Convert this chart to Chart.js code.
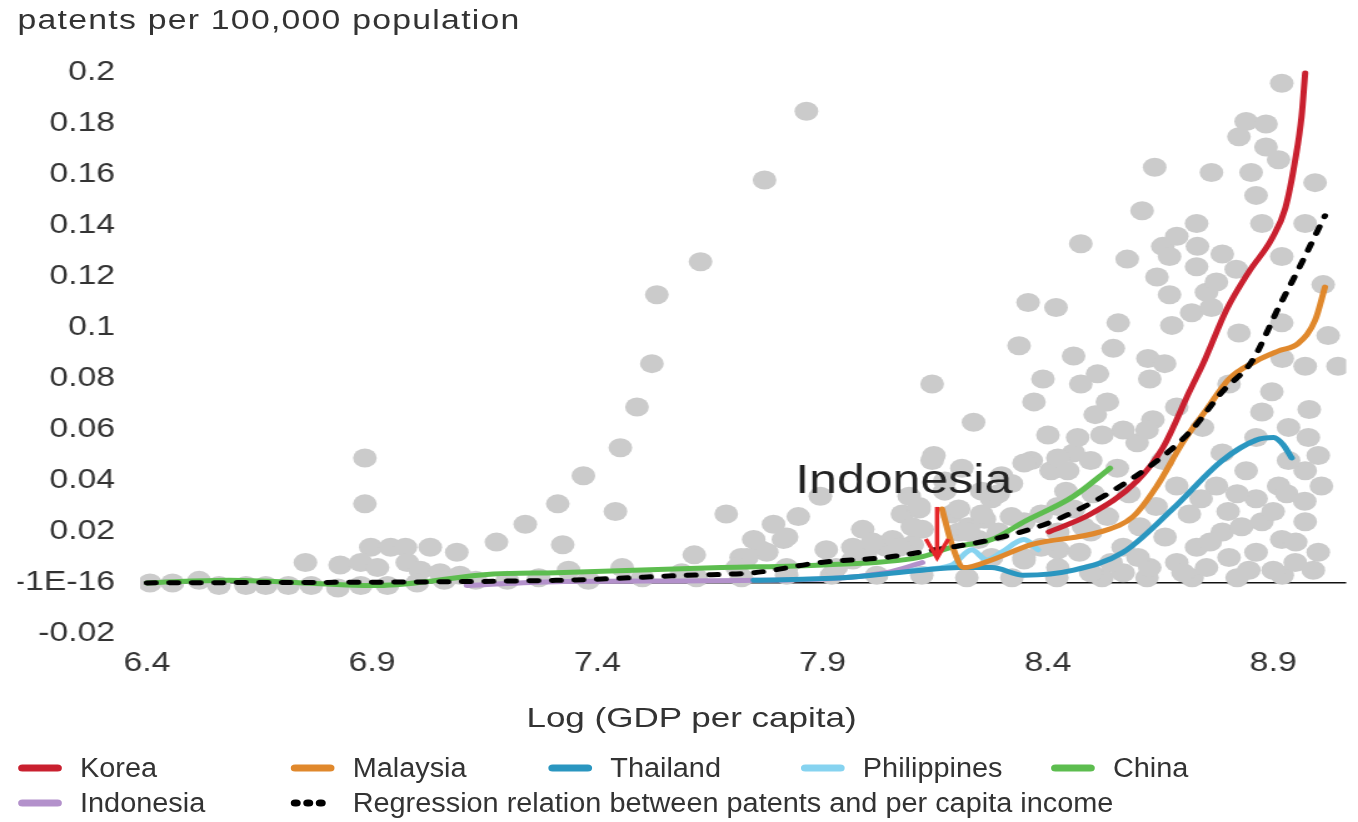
<!DOCTYPE html>
<html>
<head>
<meta charset="utf-8">
<script src="https://cdn.jsdelivr.net/npm/chart.js@4.4.0/dist/chart.umd.min.js"></script>
<style>
  html, body { margin: 0; padding: 0; background: #fff; overflow: hidden; }
  /* the source picture is stretched sideways, so the whole stage is too */
  #stage { position: absolute; left: 0; top: 0; width: 1086px; height: 822px; transform: scaleX(1.2505); transform-origin: 0 0; }
  #ytitle { position: absolute; left: 14px; top: 5px; line-height: 30px; font-size: 27px; letter-spacing: 1px; font-family: "Liberation Sans", Arial, sans-serif; color: #333; white-space: nowrap; }
  #xtitle { position: absolute; left: 403px; width: 300px; top: 701px; line-height: 34px; text-align: center; font-size: 28px; font-family: "Liberation Sans", Arial, sans-serif; color: #333; white-space: nowrap; }
  #chart { position: absolute; left: 0; top: 0; }
  .lg { position: absolute; display: flex; align-items: center; height: 32px; font-size: 27px; font-family: "Liberation Sans", Arial, sans-serif; color: #333; white-space: nowrap; }
  .lg svg { margin-right: 14px; flex: none; }
  .lg span { display: inline-block; transform: scaleX(0.855); transform-origin: 0 50%; }
</style>
</head>
<body>
<div id="stage">
  <div id="ytitle">patents per 100,000 population</div>
  <canvas id="chart" width="1086" height="745"></canvas>
  <div id="xtitle">Log (GDP per capita)</div>
  <div id="legend"></div>
</div>
<script>
// ticks
const xTicks = [6.4, 6.9, 7.4, 7.9, 8.4, 8.9];
const xTickLabels = ['6.4', '6.9', '7.4', '7.9', '8.4', '8.9'];
const yTicks = [-0.02, 0, 0.02, 0.04, 0.06, 0.08, 0.1, 0.12, 0.14, 0.16, 0.18, 0.2];
const yTickLabels = ['-0.02', '-1E-16', '0.02', '0.04', '0.06', '0.08', '0.1', '0.12', '0.14', '0.16', '0.18', '0.2'];

// country paths [log gdp per capita, patents per 100,000]
const korea = [[8.402,0.020],[8.495,0.027],[8.598,0.040],[8.655,0.053],[8.714,0.075],[8.747,0.087],[8.796,0.107],[8.846,0.122],[8.897,0.135],[8.927,0.147],[8.949,0.166],[8.963,0.183],[8.971,0.200]];
const malaysia = [[8.165,0.029],[8.187,0.015],[8.213,0.006],[8.275,0.009],[8.363,0.015],[8.516,0.020],[8.589,0.026],[8.642,0.038],[8.699,0.055],[8.752,0.068],[8.802,0.080],[8.862,0.087],[8.912,0.091],[8.956,0.094],[8.993,0.103],[9.015,0.116]];
const thailand = [[7.747,0.001],[7.945,0.002],[8.121,0.005],[8.202,0.006],[8.275,0.006],[8.347,0.003],[8.457,0.005],[8.567,0.012],[8.677,0.029],[8.787,0.048],[8.862,0.056],[8.901,0.057],[8.923,0.054],[8.941,0.049]];
const philippines = [[8.099,0.005],[8.187,0.007],[8.231,0.013],[8.264,0.009],[8.297,0.012],[8.347,0.017],[8.378,0.013]];
const china = [[6.400,0.000],[6.582,0.001],[6.912,-0.001],[7.169,0.0035],[7.308,0.004],[7.675,0.006],[7.901,0.007],[8.114,0.010],[8.187,0.014],[8.275,0.017],[8.347,0.024],[8.457,0.034],[8.538,0.045]];
const indonesia = [[7.110,-0.001],[7.308,0.0005],[7.747,0.001],[8.040,0.004],[8.121,0.008]];
const regression = [[6.400,0.000],[7.308,0.001],[7.600,0.003],[7.747,0.004],[7.895,0.008],[8.040,0.010],[8.149,0.013],[8.275,0.017],[8.422,0.025],[8.604,0.043],[8.714,0.059],[8.787,0.075],[8.853,0.087],[8.912,0.108],[8.956,0.123],[9.015,0.144]];

// all country-year observations (grey dots)
const observations = [
  [7.864,0.185],[7.771,0.158],[7.629,0.126],[7.532,0.113],[7.521,0.086],[7.488,0.069],[7.451,0.053],[7.369,0.042],
  [7.312,0.031],[7.440,0.028],[7.686,0.027],[7.323,0.015],[7.240,0.023],[7.176,0.016],[6.884,0.049],[6.884,0.031],
  [7.029,0.014],[7.088,0.012],[6.897,0.014],[6.941,0.014],[6.974,0.014],[6.752,0.008],[6.829,0.007],[6.875,0.008],
  [6.912,0.006],[6.978,0.008],[7.007,0.005],[7.051,0.004],[7.095,0.003],[7.336,0.005],[7.455,0.006],[7.587,0.004],
  [6.407,0],[6.457,0],[6.516,0.001],[6.560,-0.001],[6.620,-0.001],[6.664,-0.001],[6.714,-0.001],[6.765,-0.001],
  [6.824,-0.002],[6.875,-0.001],[6.934,-0.001],[7.0,0],[7.06,0.001],[7.13,0.001],[7.2,0.001],[7.27,0.002],
  [7.38,0.001],[7.5,0.002],[7.62,0.002],[7.72,0.002],[7.82,0.003],[7.92,0.003],[8.02,0.003],[8.12,0.003],
  [8.22,0.002],[8.32,0.002],[8.42,0.002],[8.52,0.002],[8.62,0.002],[8.72,0.002],[8.82,0.002],[8.92,0.003],
  [7.846,0.026],[8.143,0.078],[8.235,0.063],[8.147,0.050],[8.092,0.034],[7.895,0.034],[7.820,0.018],[7.763,0.013],
  [7.719,0.010],[7.996,0.012],[8.040,0.014],[8.077,0.027],[8.114,0.029],[8.187,0.027],[8.224,0.022],[8.259,0.025],
  [8.246,0.017],[8.202,0.020],[8.121,0.021],[8.171,0.040],[8.209,0.045],[7.820,0.006],[7.930,0.006],[7.615,0.011],
  [7.747,0.017],[7.791,0.023],[7.989,0.021],[8.055,0.017],[7.967,0.009],[8.099,0.015],[8.253,0.036],[8.297,0.042],
  [7.813,0.017],[7.776,0.012],[7.732,0.010],[7.710,0.006],[7.908,0.013],[7.967,0.014],[8.011,0.016],[8.070,0.014],
  [8.099,0.022],[8.114,0.030],[8.143,0.048],[8.171,0.036],[8.202,0.029],[8.224,0.020],[8.253,0.027],[8.275,0.033],
  [8.319,0.039],[8.363,0.048],[8.407,0.044],[8.457,0.051],[8.422,0.030],[8.347,0.024],[8.290,0.020],[8.275,0.010],
  [8.347,0.010],[8.422,0.013],[8.479,0.022],
  [8.473,0.133],[8.576,0.127],[8.655,0.132],[8.686,0.136],[8.670,0.128],[8.642,0.120],[8.670,0.113],[8.356,0.110],
  [8.418,0.108],[8.556,0.102],[8.675,0.101],[8.336,0.093],[8.545,0.092],[8.457,0.089],[8.622,0.088],[8.659,0.086],
  [8.389,0.080],[8.510,0.082],[8.473,0.078],[8.369,0.071],[8.532,0.071],[8.505,0.066],[8.633,0.064],[8.567,0.060],
  [8.466,0.057],[8.598,0.055],[8.347,0.047],[8.422,0.049],[8.495,0.048],[8.444,0.044],[8.554,0.045],
  [8.919,0.196],[8.840,0.181],[8.884,0.180],[8.824,0.175],[8.884,0.171],[8.912,0.166],[8.637,0.163],[8.763,0.161],
  [8.851,0.161],[8.993,0.157],[8.862,0.152],[8.609,0.146],[8.730,0.141],[8.875,0.141],[8.971,0.141],[8.732,0.132],
  [8.787,0.129],[8.919,0.128],[8.730,0.124],[8.818,0.123],[8.752,0.114],[8.774,0.118],[8.719,0.106],[8.763,0.108],
  [8.824,0.098],[8.919,0.102],
  [8.971,0.085],[8.897,0.075],[8.802,0.078],[8.934,0.061],[8.978,0.057],[8.862,0.057],[8.787,0.051],[8.971,0.044],
  [8.912,0.038],[8.862,0.033],[8.971,0.024],[8.875,0.024],[8.787,0.020],[8.730,0.014],[8.862,0.012],[8.949,0.008],
  [8.846,0.005],[8.686,0.008],[8.626,0.006],[8.567,0.004],[8.495,0.004],[8.422,0.006],[8.714,0.027],[8.686,0.038],
  [8.655,0.048],[8.620,0.060],[8.774,0.038],[8.840,0.044],[8.743,0.061],[8.686,0.069],[8.626,0.080],[8.875,0.067],
  [8.934,0.048],[9.007,0.038],[8.919,0.017],[8.802,0.010],[8.752,0.006],[8.567,0.014],[8.495,0.020],[8.422,0.020],
  [8.385,0.014],[8.347,0.009],[8.604,0.022],[8.532,0.026],[8.457,0.029],[8.385,0.027],[8.319,0.026],[8.290,0.035],
  [9.022,0.097],[9.044,0.085],[9.011,0.117],[8.989,0.005],[9.0,0.012],
  [8.70,0.004],[8.76,0.016],[8.80,0.028],[8.83,0.022],[8.90,0.028],[8.93,0.035],[8.95,0.016],[8.90,0.005],
  [8.82,0.035],[8.74,0.033],[8.66,0.018],[8.60,0.010],[8.54,0.008],[8.47,0.012],[8.97,0.032],[9.00,0.050],
  [8.98,0.068],[8.92,0.088],[8.64,0.030],[8.58,0.035],[8.50,0.035],[8.44,0.036],[8.40,0.058],[8.52,0.058]
];

// annotation
const noteText = 'Indonesia';
const noteAt = [8.08, 0.0353];
const arrowX = 8.154, arrowFrom = 0.0298, arrowTo = 0.0098;

const series = [
  { label: 'Korea', data: korea, color: '#c9202f' },
  { label: 'Malaysia', data: malaysia, color: '#e0882c' },
  { label: 'Thailand', data: thailand, color: '#2a96c0' },
  { label: 'Philippines', data: philippines, color: '#86d3f0' },
  { label: 'China', data: china, color: '#5dbd4f' },
  { label: 'Indonesia', data: indonesia, color: '#b391cb' },
  { label: 'Regression relation between patents and per capita income', data: regression, color: '#000', dashed: true }
];

const toXY = arr => arr.map(p => ({ x: p[0], y: p[1] }));

const datasets = series.map((s, i) => ({
  label: s.label,
  data: toXY(s.data),
  showLine: true,
  borderColor: s.color,
  backgroundColor: s.color,
  borderWidth: 5,
  borderDash: s.dashed ? [7, 11] : [],
  borderCapStyle: 'round',
  borderJoinStyle: 'round',
  pointRadius: 0,
  cubicInterpolationMode: 'monotone',
  order: s.dashed ? 0 : i + 1
}));

datasets.push({
  label: 'observations',
  data: toXY(observations),
  showLine: false,
  pointRadius: 9.5,
  pointHoverRadius: 9.5,
  backgroundColor: '#cbcbcb',
  borderWidth: 0,
  order: 20
});

const annotate = {
  id: 'annotate',
  afterDatasetsDraw(chart) {
    const ctx = chart.ctx;
    const x = chart.scales.x, y = chart.scales.y;
    ctx.save();
    ctx.font = '40px "Liberation Sans", Arial, sans-serif';
    ctx.fillStyle = '#222';
    ctx.textAlign = 'center';
    ctx.textBaseline = 'alphabetic';
    ctx.fillText(noteText, x.getPixelForValue(noteAt[0]), y.getPixelForValue(noteAt[1]));

    const ax = x.getPixelForValue(arrowX);
    const y0 = y.getPixelForValue(arrowFrom);
    const y1 = y.getPixelForValue(arrowTo);
    ctx.strokeStyle = '#e5262a';
    ctx.lineWidth = 3.5;
    ctx.beginPath();
    ctx.moveTo(ax, y0);
    ctx.lineTo(ax, y1 - 2);
    ctx.stroke();
    ctx.beginPath();
    ctx.moveTo(ax - 9, y1 - 19);
    ctx.lineTo(ax, y1);
    ctx.lineTo(ax + 9, y1 - 19);
    ctx.stroke();
    ctx.restore();
  }
};

new Chart(document.getElementById('chart'), {
  type: 'scatter',
  data: { datasets: datasets },
  plugins: [annotate],
  options: {
    responsive: false,
    animation: false,
    devicePixelRatio: 1,
    events: [],
    layout: { padding: { top: 60, left: 14, right: 0, bottom: 6 } },
    plugins: { legend: { display: false }, tooltip: { enabled: false } },
    scales: {
      x: {
        type: 'linear',
        min: 6.385,
        max: 9.062,
        afterBuildTicks: s => { s.ticks = xTicks.map(v => ({ value: v })); },
        afterFit: s => { s.height = 100; },
        grid: { display: false, drawTicks: false },
        border: { display: false },
        ticks: {
          autoSkip: false,
          maxRotation: 0,
          padding: 8,
          color: '#333',
          font: { family: '"Liberation Sans", Arial, sans-serif', size: 27 },
          callback: (v, i) => xTickLabels[i]
        }
      },
      y: {
        min: -0.022,
        max: 0.2051,
        afterBuildTicks: s => { s.ticks = yTicks.map(v => ({ value: v })); },
        afterFit: s => { s.width = 98; },
        grid: {
          drawTicks: false,
          lineWidth: 1.5,
          color: c => (c.tick && c.tick.value === 0) ? '#111' : 'rgba(0,0,0,0)'
        },
        border: { display: false },
        ticks: {
          autoSkip: false,
          padding: 20,
          color: '#333',
          font: { family: '"Liberation Sans", Arial, sans-serif', size: 27 },
          callback: (v, i) => yTickLabels[i]
        }
      }
    }
  }
});

// legend below the chart
const legendSpots = [[14, 752], [232, 752], [438, 752], [640, 752], [840, 752], [14, 787], [232, 787]];
const legend = document.getElementById('legend');
series.forEach((s, i) => {
  const item = document.createElement('div');
  item.className = 'lg';
  item.style.left = legendSpots[i][0] + 'px';
  item.style.top = legendSpots[i][1] + 'px';
  const dash = s.dashed ? ' stroke-dasharray="1 9"' : '';
  item.innerHTML = '<svg width="36" height="12"><line x1="4" y1="6" x2="32" y2="6" stroke="' + s.color +
    '" stroke-width="7" stroke-linecap="round"' + dash + '/></svg><span>' + s.label + '</span>';
  legend.appendChild(item);
});
</script>
</body>
</html>
